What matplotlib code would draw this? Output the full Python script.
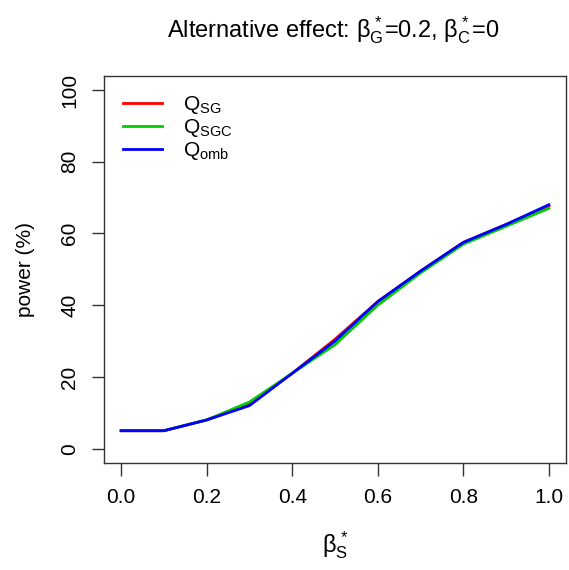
import matplotlib
matplotlib.use("Agg")
import matplotlib.pyplot as plt

plt.rcParams['font.family'] = ['Liberation Sans', 'DejaVu Sans']
plt.rcParams['mathtext.fontset'] = 'custom'
plt.rcParams['mathtext.rm'] = 'Liberation Sans'
plt.rcParams['mathtext.it'] = 'Liberation Sans'
plt.rcParams['mathtext.bf'] = 'Liberation Sans:bold'

beta_s = [0.0, 0.1, 0.2, 0.3, 0.4, 0.5, 0.6, 0.7, 0.8, 0.9, 1.0]
q_sg   = [5, 5, 8, 12.5, 21, 30.5, 41, 49.5, 57.5, 62.5, 67.7]
q_sgc  = [5, 5, 8, 13, 21, 29, 40, 49, 57, 62, 67]
q_omb  = [5, 5, 8, 12, 21, 30, 41, 49.5, 57.5, 62.5, 68]

xticks = [0.0, 0.2, 0.4, 0.6, 0.8, 1.0]
yticks = [0, 20, 40, 60, 80, 100]

fig = plt.figure(figsize=(5.69, 5.70), dpi=100)
ax = fig.add_axes([104/569, 1-463/570, (566-104)/569, (463-75.6)/570])

ax.plot(beta_s, q_sg, color='#FF0000', lw=2, label=r'$\mathrm{Q_{SG}}$')
ax.plot(beta_s, q_sgc, color='#00CD00', lw=2, label=r'$\mathrm{Q_{SGC}}$')
ax.plot(beta_s, q_omb, color='#0000FF', lw=2, label=r'$\mathrm{Q_{omb}}$')

ax.set_xlim(-0.04, 1.04)
ax.set_ylim(-4, 104)
ax.set_xticks(xticks)
ax.set_xticklabels([f"{t:.1f}" for t in xticks])
ax.set_yticks(yticks)
ax.set_yticklabels([str(t) for t in yticks], rotation=90, va='center')
ax.tick_params(axis='both', length=9, width=1, labelsize=15, pad=9, colors='#333333', labelcolor='black')
for s in ax.spines.values():
    s.set_linewidth(1)
    s.set_color('#333333')

ax.set_ylabel('power (%)', fontsize=15)
ax.yaxis.set_label_coords((25-104)/462, 0.5)
ax.set_xlabel(r'$\beta_S^*$', fontsize=17)
ax.xaxis.set_label_coords(0.5, (463-545)/387.4)
ax.xaxis.label.set_va('center')
ax.yaxis.label.set_va('center')
fig.text(333/569, 1-30/570, r'Alternative effect: $\beta_G^*$=0.2, $\beta_C^*$=0',
         ha='center', va='center', fontsize=17)

leg = ax.legend(loc='upper left', frameon=False, fontsize=15, handlelength=1.9,
                handletextpad=1.0, labelspacing=0.05, borderaxespad=0.5)

fig.savefig('out.png', dpi=100)
